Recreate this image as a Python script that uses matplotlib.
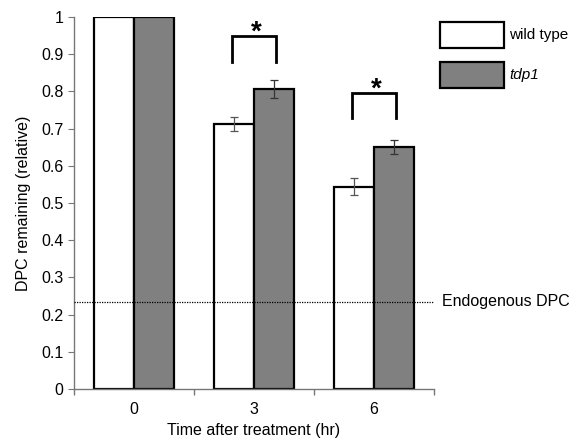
import numpy as np
import matplotlib
matplotlib.use('Agg')
import matplotlib.pyplot as plt
from matplotlib.patches import Rectangle

plt.rcParams['font.family'] = ['Liberation Sans', 'DejaVu Sans']

times = ['0', '3', '6']
wild_type = [1.0, 0.712, 0.544]
wild_err = [0.0, 0.018, 0.022]
tdp1 = [1.0, 0.806, 0.651]
tdp1_err = [0.0, 0.025, 0.018]
endogenous = 0.234
# significance brackets: (group index, top, bottom)
brackets = [(1, 0.949, 0.879), (2, 0.797, 0.728)]

fs = 11.5
fig = plt.figure(figsize=(5.7, 4.38), dpi=100)
ax = fig.add_axes([74/570, 49/438, 360/570, 372/438])

x = np.arange(len(times))
w = 1/3
ax.bar(x - w/2, wild_type, w, color='white', edgecolor='black', linewidth=1.6, zorder=2)
ax.bar(x + w/2, tdp1, w, color='#808080', edgecolor='black', linewidth=1.6, zorder=2)
for i in range(1, len(times)):
    ax.errorbar(x[i] - w/2, wild_type[i], yerr=wild_err[i], color='#555555',
                capsize=3, elinewidth=0.9, capthick=0.9, zorder=3)
    ax.errorbar(x[i] + w/2, tdp1[i], yerr=tdp1_err[i], color='#333333',
                capsize=3, elinewidth=0.9, capthick=0.9, zorder=3)

ax.axhline(endogenous, color='black', linestyle=(0, (1, 1)), linewidth=0.9, zorder=4,
           clip_on=False)
ax.text(2.57, endogenous, 'Endogenous DPC', va='center', ha='left', fontsize=fs)

for g, top, bot in brackets:
    xl, xr = g - 0.18, g + 0.18
    ax.plot([xl, xl, xr, xr], [bot, top, top, bot], color='black', linewidth=2,
            solid_joinstyle='miter', zorder=4)
    ax.text(g + 0.02, top - 0.027, '*', ha='center', va='bottom', fontsize=20,
            fontweight='bold')

ax.set_xlim(-0.5, 2.5)
ax.set_ylim(0, 1)
ax.set_yticks(np.arange(0, 1.01, 0.1))
ax.set_yticklabels(['0'] + ['%.1f' % v for v in np.arange(0.1, 0.95, 0.1)] + ['1'])
ax.set_xticks(x)
ax.set_xticklabels(times)
ax.set_xticks([-0.5, 0.5, 1.5, 2.5], minor=True)
ax.tick_params(axis='x', which='major', length=0, pad=9, labelsize=fs)
ax.tick_params(axis='x', which='minor', length=4, color='#777777', width=1)
ax.tick_params(axis='y', length=4, color='#777777', labelsize=fs)
for s in ['top', 'right']:
    ax.spines[s].set_visible(False)
for s in ['left', 'bottom']:
    ax.spines[s].set_color('#777777')
    ax.spines[s].set_linewidth(1)
ax.set_ylabel('DPC remaining (relative)', fontsize=fs, labelpad=7)
ax.set_xlabel('Time after treatment (hr)', fontsize=fs, labelpad=5)

# legend drawn as boxes in figure pixels
leg = [('wild type', 'white', 'normal'), ('tdp1', '#808080', 'italic')]
for k, (lab, col, sty) in enumerate(leg):
    y0 = 438 - 48 - 40*k
    fig.patches.append(Rectangle((440/570, y0/438), 64/570, 26/438, facecolor=col,
                                 edgecolor='black', linewidth=1.6,
                                 transform=fig.transFigure, figure=fig))
    fig.text(509/570, (y0 + 13)/438, lab, va='center', ha='left', fontsize=11,
             style=sty)

fig.savefig('out.png', dpi=100)
